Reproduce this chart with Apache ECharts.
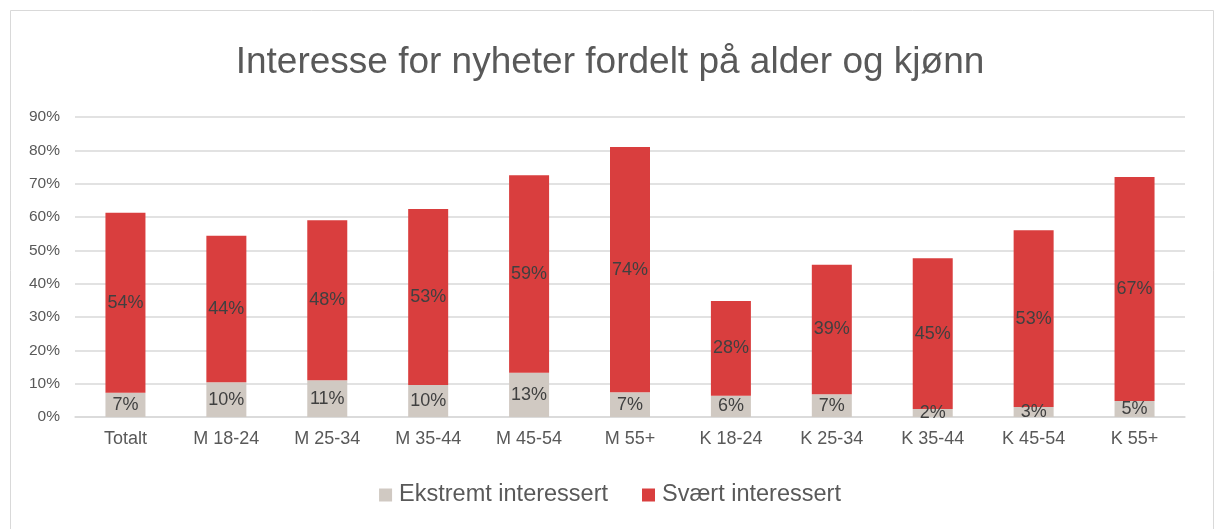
<!DOCTYPE html>
<html><head><meta charset="utf-8">
<script src="https://cdn.jsdelivr.net/npm/echarts@6/dist/echarts.min.js"></script>
<style>html,body{margin:0;padding:0;background:#fff}#c{width:1220px;height:529px}</style>
</head><body><div id="c"></div>
<script>
const categories = ["Totalt","M 18-24","M 25-34","M 35-44","M 45-54","M 55+","K 18-24","K 25-34","K 35-44","K 45-54","K 55+"];
const ekstremt = [7.3, 10.4, 11.0, 9.6, 13.3, 7.4, 6.4, 6.8, 2.4, 3.0, 4.8];
const svaert = [54.0, 44.0, 48.0, 52.8, 59.2, 73.6, 28.4, 38.9, 45.2, 53.0, 67.2];
const seriesNames = ["Ekstremt interessert","Svært interessert"];
const titleText = "Interesse for nyheter fordelt på alder og kjønn";
const font = '"Liberation Sans", Arial, sans-serif';
const chart = echarts.init(document.getElementById('c'), null, {renderer:'canvas'});
const lbl = {show:true, position:'inside', color:'#404040', fontSize:18, fontFamily:font,
  formatter: p => Math.round(p.value) + '%'};
chart.setOption({
  animation:false,
  backgroundColor:'#fff',
  graphic:[{type:'rect', shape:{x:10.5,y:10.5,width:1203,height:530}, style:{fill:'none', stroke:'#d9d9d9', lineWidth:1}}],
  title:{text:titleText, left:'center', top:39, textStyle:{fontFamily:font, fontSize:37, fontWeight:'normal', color:'#595959'}},
  grid:{left:75, right:35, top:117, bottom:112, containLabel:false},
  legend:{bottom:17, left:'center', itemWidth:13, itemHeight:13, itemGap:34, icon:'rect',
    textStyle:{fontFamily:font, fontSize:23.5, color:'#595959', padding:[0,0,0,2]}},
  xAxis:{type:'category', data:categories, axisTick:{show:false},
    axisLine:{lineStyle:{color:'#d9d9d9', width:1.5}},
    axisLabel:{fontFamily:font, fontSize:18, color:'#595959', margin:13}},
  yAxis:{type:'value', min:0, max:90, interval:10,
    axisLabel:{formatter:'{value}%', fontFamily:font, fontSize:15.5, color:'#595959', margin:15},
    splitLine:{lineStyle:{color:'#d9d9d9', width:1.5}}, axisLine:{show:false}},
  series:[
    {name:seriesNames[0], type:'bar', stack:'a', data:ekstremt, barWidth:40, itemStyle:{color:'#d0c9c2'}, label:lbl},
    {name:seriesNames[1], type:'bar', stack:'a', data:svaert, barWidth:40, itemStyle:{color:'#d93e3e'}, label:lbl}
  ]
});
</script></body></html>
